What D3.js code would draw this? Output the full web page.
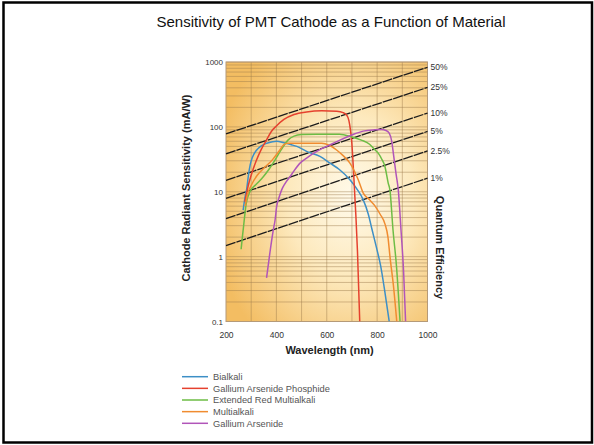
<!DOCTYPE html>
<html>
<head>
<meta charset="utf-8">
<script src="https://cdn.jsdelivr.net/npm/d3@7"></script>
<style>
  html, body { margin: 0; padding: 0; background: #fff; }
  svg { display: block; font-family: "Liberation Sans", Arial, sans-serif; }
</style>
</head>
<body>
<div id="chart"></div>
<script>
// data: [wavelength nm, sensitivity mA/W]
const materials = ["Bialkali", "Gallium Arsenide Phosphide", "Extended Red Multialkali", "Multialkali", "Gallium Arsenide"];

const bialkali = [[268,5.2],[275,8],[282,11],[290,19],[296,26],[305,34],[322,44],[340,51],[362,56],[385,59],[401,60],[430,57],[460,53],[481,50],[520,42],[573,35],[613,27.6],[650,22],[692,15.3],[720,11],[745,7.5],[765,4.5],[780,2.6],[797,1.4],[814,0.72],[830,0.3],[848,0.1]];
const gaasp = [[275,7],[285,11],[300,18],[320,30],[340,45],[360,62],[380,85],[400,103],[430,130],[470,155],[520,170],[580,177],[640,174],[665,166],[680,150],[688,125],[694,90],[699,60],[704,30],[710,11],[716,4],[722,1.2],[731,0.1]];
const extRedMultialkali = [[260,1.3],[265,2],[270,3],[280,6.5],[295,10],[320,13],[348,17],[370,22],[395,31],[420,45],[447,63],[470,72],[500,76],[560,77],[650,77],[700,70],[740,62],[770,54],[792,44],[805,39],[818,32],[831,24.5],[844,13.6],[851,10.5],[863,2.6],[877,0.7],[891,0.1]];
const multialkali = [[276,6],[285,9],[300,12.5],[324,18],[350,23],[384,31],[410,42],[429,53],[445,56],[460,56],[580,56],[610,52],[639,44],[665,36],[692,27.6],[725,15.3],[745,9.5],[770,7.5],[792,6],[812,4.5],[831,3.2],[843,2],[851,1],[865,0.35],[878,0.1]];
const gaas = [[361,0.47],[375,1.2],[388,2.6],[395,3.7],[401,5.9],[410,8],[421,10.7],[435,13.5],[454,17],[470,21],[494,27.6],[520,33],[547,39],[575,45],[600,50],[650,62],[700,75],[745,86],[790,90],[818,91],[835,88],[848,80],[858,60],[866,35],[875,19],[884,10.7],[895,2.5],[905,0.6],[913,0.1]];
const seriesData = [bialkali, gaasp, extRedMultialkali, multialkali, gaas];

// quantum efficiency guide lines (value at 200 nm and at 1000 nm)
const qeLabels = ["50%", "25%", "10%", "5%", "2.5%", "1%"];
const qeAt200 = [78, 38.5, 15, 7.9, 3.85, 1.48];
const qeAt1000 = [830, 405, 163, 85, 42.5, 16.2];

const xTicks = [200, 400, 600, 800, 1000];
const xGrid = [300, 400, 500, 600, 700, 800, 900];
const yTicks = [0.1, 1, 10, 100, 1000];
const yTickLabels = ["0.1", "1", "10", "100", "1000"];

let config = {
    width: 594,
    height: 445,
    left: 226,
    right: 427.5,
    top: 62,
    bottom: 321.5,
    colors: ["#3d8fc6", "#e5412e", "#6dbd45", "#f08c30", "#b155b9"]
};

const svg = d3.select("#chart")
    .append("svg")
    .attr("width", config.width)
    .attr("height", config.height);

// outer frame
svg.append("rect")
    .attr("x", 3.5).attr("y", 2.5)
    .attr("width", 588.5).attr("height", 440)
    .attr("fill", "none")
    .attr("stroke", "#000")
    .attr("stroke-width", 2.5);

svg.append("text")
    .attr("x", 331).attr("y", 27)
    .attr("text-anchor", "middle")
    .attr("font-size", 15)
    .attr("fill", "#111")
    .text("Sensitivity of PMT Cathode as a Function of Material");

let x = d3.scaleLinear().domain([200, 1000]).range([config.left, config.right]);
let y = d3.scaleLog().domain([0.1, 1000]).range([config.bottom, config.top]);

// background gradient
let defs = svg.append("defs");
let grad = defs.append("radialGradient")
    .attr("id", "bg")
    .attr("cx", "62%").attr("cy", "52%").attr("r", "70%");
grad.append("stop").attr("offset", "0%").attr("stop-color", "#fffaea");
grad.append("stop").attr("offset", "45%").attr("stop-color", "#fde9bd");
grad.append("stop").attr("offset", "100%").attr("stop-color", "#f3bd62");

defs.append("clipPath").attr("id", "clip")
    .append("rect")
    .attr("x", config.left).attr("y", config.top)
    .attr("width", config.right - config.left)
    .attr("height", config.bottom - config.top);

svg.append("rect")
    .attr("x", config.left).attr("y", config.top)
    .attr("width", config.right - config.left)
    .attr("height", config.bottom - config.top)
    .attr("fill", "url(#bg)");

// grid
let grid = svg.append("g");
grid.selectAll("line.h")
    .data(y.ticks())
    .join("line")
    .attr("class", "h")
    .attr("x1", config.left).attr("x2", config.right)
    .attr("y1", d => y(d)).attr("y2", d => y(d))
    .attr("stroke", "#9c7a4c")
    .attr("stroke-opacity", 0.5)
    .attr("stroke-width", 0.9);
grid.selectAll("line.v")
    .data(xGrid)
    .join("line")
    .attr("class", "v")
    .attr("x1", d => x(d)).attr("x2", d => x(d))
    .attr("y1", config.top).attr("y2", config.bottom)
    .attr("stroke", "#9c7a4c")
    .attr("stroke-opacity", 0.5)
    .attr("stroke-width", 0.9);

svg.append("rect")
    .attr("x", config.left).attr("y", config.top)
    .attr("width", config.right - config.left)
    .attr("height", config.bottom - config.top)
    .attr("fill", "none")
    .attr("stroke", "#b59a78")
    .attr("stroke-width", 1);

// QE lines
let qe = qeLabels.map((label, i) => ({label: label, pts: [[200, qeAt200[i]], [1000, qeAt1000[i]]]}));
let qeLine = d3.line().x(d => x(d[0])).y(d => y(d[1]));
svg.append("g")
    .selectAll("path")
    .data(qe)
    .join("path")
    .attr("d", d => qeLine(d.pts))
    .attr("fill", "none")
    .attr("stroke", "#1c1c1c")
    .attr("stroke-width", 1.3)
    .attr("stroke-dasharray", "10,1");

svg.append("g")
    .selectAll("text")
    .data(qe)
    .join("text")
    .attr("x", config.right + 3)
    .attr("y", d => y(d.pts[1][1]) + 3)
    .attr("font-size", 8.5)
    .attr("fill", "#333")
    .text(d => d.label);

// sensitivity curves
let line = d3.line()
    .x(d => x(d[0]))
    .y(d => y(d[1]))
    .curve(d3.curveMonotoneX);
svg.append("g")
    .attr("clip-path", "url(#clip)")
    .selectAll("path")
    .data(seriesData)
    .join("path")
    .attr("d", line)
    .attr("fill", "none")
    .attr("stroke", (d, i) => config.colors[i])
    .attr("stroke-width", 1.5);

// axes
let xAxis = svg.append("g")
    .attr("transform", `translate(0,${config.bottom})`)
    .call(d3.axisBottom(x).tickValues(xTicks).tickFormat(d3.format("d")).tickSize(0).tickPadding(10));
xAxis.select(".domain").remove();
xAxis.selectAll("text")
    .attr("font-family", "Liberation Sans, Arial, sans-serif")
    .attr("font-size", 8.5)
    .attr("fill", "#333");

let yAxis = svg.append("g")
    .attr("transform", `translate(${config.left},0)`)
    .call(d3.axisLeft(y).tickValues(yTicks).tickFormat((d, i) => yTickLabels[i]).tickSize(0).tickPadding(3));
yAxis.select(".domain").remove();
yAxis.selectAll("text")
    .attr("font-family", "Liberation Sans, Arial, sans-serif")
    .attr("font-size", 8)
    .attr("fill", "#333");

// axis titles
svg.append("text")
    .attr("transform", "translate(190,188) rotate(-90)")
    .attr("text-anchor", "middle")
    .attr("font-size", 11)
    .attr("font-weight", "bold")
    .attr("fill", "#222")
    .text("Cathode Radiant Sensitivity (mA/W)");

svg.append("text")
    .attr("transform", "translate(436,247.5) rotate(90)")
    .attr("text-anchor", "middle")
    .attr("font-size", 11)
    .attr("font-weight", "bold")
    .attr("fill", "#222")
    .text("Quantum Efficiency");

svg.append("text")
    .attr("x", 329.5).attr("y", 354)
    .attr("text-anchor", "middle")
    .attr("font-size", 11)
    .attr("font-weight", "bold")
    .attr("fill", "#222")
    .text("Wavelength (nm)");

// legend
let legend = svg.append("g")
    .selectAll("g")
    .data(materials)
    .join("g")
    .attr("transform", (d, i) => `translate(182,${376.7 + i * 11.65})`);
legend.append("line")
    .attr("x1", 0).attr("x2", 26)
    .attr("stroke", (d, i) => config.colors[i])
    .attr("stroke-width", 1.5);
legend.append("text")
    .attr("x", 31).attr("y", 3.2)
    .attr("font-size", 9.3)
    .attr("fill", "#555")
    .text(d => d);
</script>
</body>
</html>
